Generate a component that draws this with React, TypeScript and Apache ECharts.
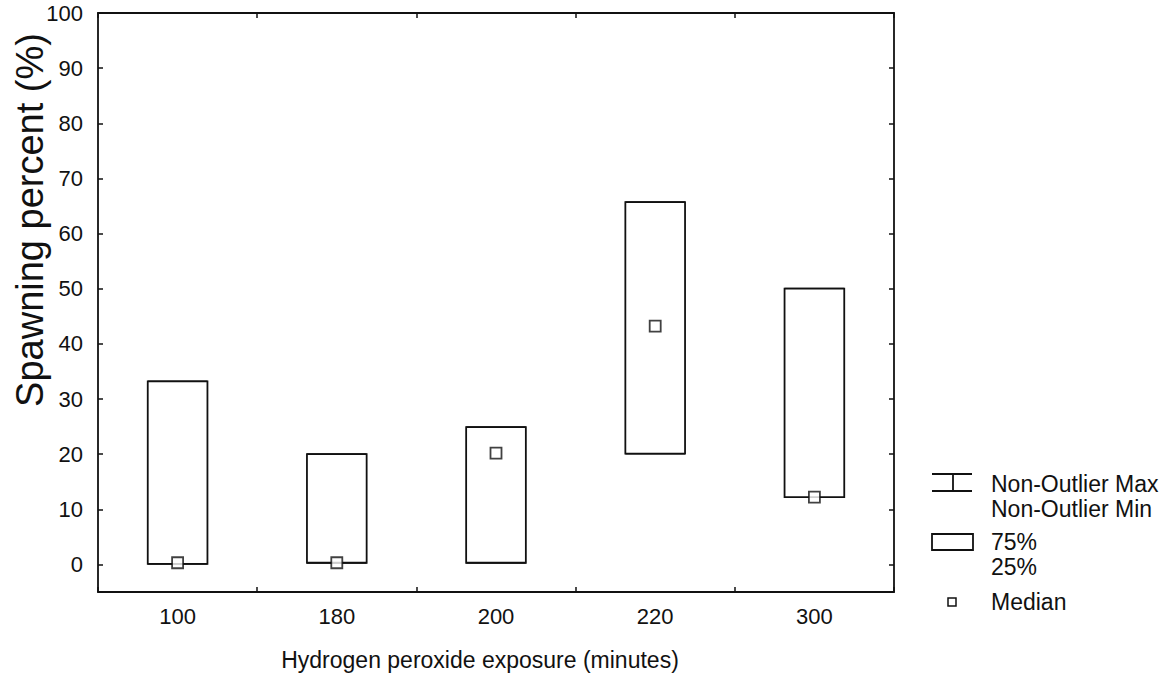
import React, { useEffect, useRef } from "react";
import * as echarts from "echarts";

// Exposure times (minutes) on the category axis
const categories = ["100", "180", "200", "220", "300"];
// Box statistics of spawning percent per exposure time
const nonOutlierMin = [0.1, 0.3, 0.3, 20.1, 12.2];
const quartile25 = [0.1, 0.3, 0.3, 20.1, 12.2];
const medians = [0.3, 0.3, 20.2, 43.2, 12.2];
const quartile75 = [33.2, 20.0, 24.9, 65.7, 50.0];
const nonOutlierMax = [33.2, 20.0, 24.9, 65.7, 50.0];

const FONT = '"Liberation Sans", Arial, Helvetica, sans-serif';
const INK = "#111";
const LW = 1.8;

export default function App() {
  const ref = useRef<HTMLDivElement>(null);

  useEffect(() => {
    if (!ref.current) return;
    const chart = echarts.init(ref.current, null, { renderer: "svg" });

    const boxData = categories.map((_, i) => [
      i,
      nonOutlierMin[i],
      quartile25[i],
      quartile75[i],
      nonOutlierMax[i],
    ]);

    const legendText = (text: string, y: number) => ({
      type: "text",
      x: 991,
      y,
      style: {
        text,
        fontFamily: FONT,
        fontSize: 23,
        fill: INK,
        verticalAlign: "middle",
        align: "left",
      },
    });

    const tick = { show: true, inside: true, length: 5, interval: 0, lineStyle: { color: INK, width: 1.5 } };
    const line = { show: true, onZero: false, lineStyle: { color: INK, width: LW } };

    chart.setOption({
      animation: false,
      backgroundColor: "#fff",
      grid: { left: 98, right: 277, top: 13, bottom: 85, containLabel: false },
      xAxis: [
        {
          type: "category",
          position: "bottom",
          data: categories,
          boundaryGap: true,
          axisLine: line,
          axisTick: tick,
          axisLabel: { color: INK, fontFamily: FONT, fontSize: 22, margin: 13 },
          splitLine: { show: false },
        },
        {
          type: "category",
          position: "top",
          data: categories,
          boundaryGap: true,
          axisLine: line,
          axisTick: tick,
          axisLabel: { show: false },
          splitLine: { show: false },
        },
      ],
      yAxis: [
        {
          type: "value",
          position: "left",
          min: -5,
          max: 100,
          splitNumber: 10,
          minInterval: 10,
          maxInterval: 10,
          axisLine: line,
          axisTick: tick,
          axisLabel: {
            color: INK,
            fontFamily: FONT,
            fontSize: 22,
            margin: 15,
            formatter: (v: number) => (v < 0 ? "" : String(v)),
          },
          splitLine: { show: false },
        },
        {
          type: "value",
          position: "right",
          min: -5,
          max: 100,
          splitNumber: 10,
          minInterval: 10,
          maxInterval: 10,
          axisLine: line,
          axisTick: tick,
          axisLabel: { show: false },
          splitLine: { show: false },
        },
      ],
      series: [
        {
          type: "custom",
          xAxisIndex: 0,
          yAxisIndex: 0,
          data: boxData,
          z: 2,
          renderItem: (params: any, api: any) => {
            const idx = api.value(0);
            const lo = api.coord([idx, api.value(1)]);
            const q1 = api.coord([idx, api.value(2)]);
            const q3 = api.coord([idx, api.value(3)]);
            const hi = api.coord([idx, api.value(4)]);
            const w = api.size([1, 0])[0] * 0.375;
            const cx = q1[0];
            const stroke = { stroke: INK, lineWidth: LW, fill: "none" };
            return {
              type: "group",
              children: [
                // whiskers and caps
                { type: "line", shape: { x1: cx, y1: q3[1], x2: cx, y2: hi[1] }, style: stroke },
                { type: "line", shape: { x1: cx - w / 2, y1: hi[1], x2: cx + w / 2, y2: hi[1] }, style: stroke },
                { type: "line", shape: { x1: cx, y1: q1[1], x2: cx, y2: lo[1] }, style: stroke },
                { type: "line", shape: { x1: cx - w / 2, y1: lo[1], x2: cx + w / 2, y2: lo[1] }, style: stroke },
                // interquartile box
                {
                  type: "rect",
                  shape: { x: cx - w / 2, y: q3[1], width: w, height: q1[1] - q3[1] },
                  style: { stroke: INK, lineWidth: LW, fill: "#fff" },
                },
              ],
            };
          },
        },
        {
          type: "scatter",
          xAxisIndex: 0,
          yAxisIndex: 0,
          data: medians,
          symbol: "rect",
          symbolSize: 11,
          z: 3,
          itemStyle: { color: "#fff", borderColor: INK, borderWidth: LW },
        },
      ],
      graphic: [
        // y axis title
        {
          type: "text",
          x: 30,
          y: 220,
          rotation: Math.PI / 2,
          style: {
            text: "Spawning percent (%)",
            fontFamily: FONT,
            fontSize: 38,
            fill: INK,
            align: "center",
            verticalAlign: "middle",
          },
        },
        // x axis title
        {
          type: "text",
          x: 480,
          y: 660,
          style: {
            text: "Hydrogen peroxide exposure (minutes)",
            fontFamily: FONT,
            fontSize: 23,
            fill: INK,
            align: "center",
            verticalAlign: "middle",
          },
        },
        // legend: whisker symbol
        { type: "line", shape: { x1: 932, y1: 474, x2: 972, y2: 474 }, style: { stroke: INK, lineWidth: LW } },
        { type: "line", shape: { x1: 932, y1: 491, x2: 972, y2: 491 }, style: { stroke: INK, lineWidth: LW } },
        { type: "line", shape: { x1: 953, y1: 474, x2: 953, y2: 491 }, style: { stroke: INK, lineWidth: LW } },
        legendText("Non-Outlier Max", 484),
        legendText("Non-Outlier Min", 509),
        // legend: box symbol
        {
          type: "rect",
          shape: { x: 932, y: 534, width: 41, height: 16 },
          style: { stroke: INK, lineWidth: LW, fill: "#fff" },
        },
        legendText("75%", 542),
        legendText("25%", 567),
        // legend: median symbol
        {
          type: "rect",
          shape: { x: 948, y: 598, width: 8, height: 8 },
          style: { stroke: INK, lineWidth: 1.5, fill: "#fff" },
        },
        legendText("Median", 602),
      ],
    });

    return () => chart.dispose();
  }, []);

  return (
    <div
      ref={ref}
      style={{ width: 1171, height: 677, position: "absolute", left: 0, top: 0, background: "#fff" }}
    />
  );
}
